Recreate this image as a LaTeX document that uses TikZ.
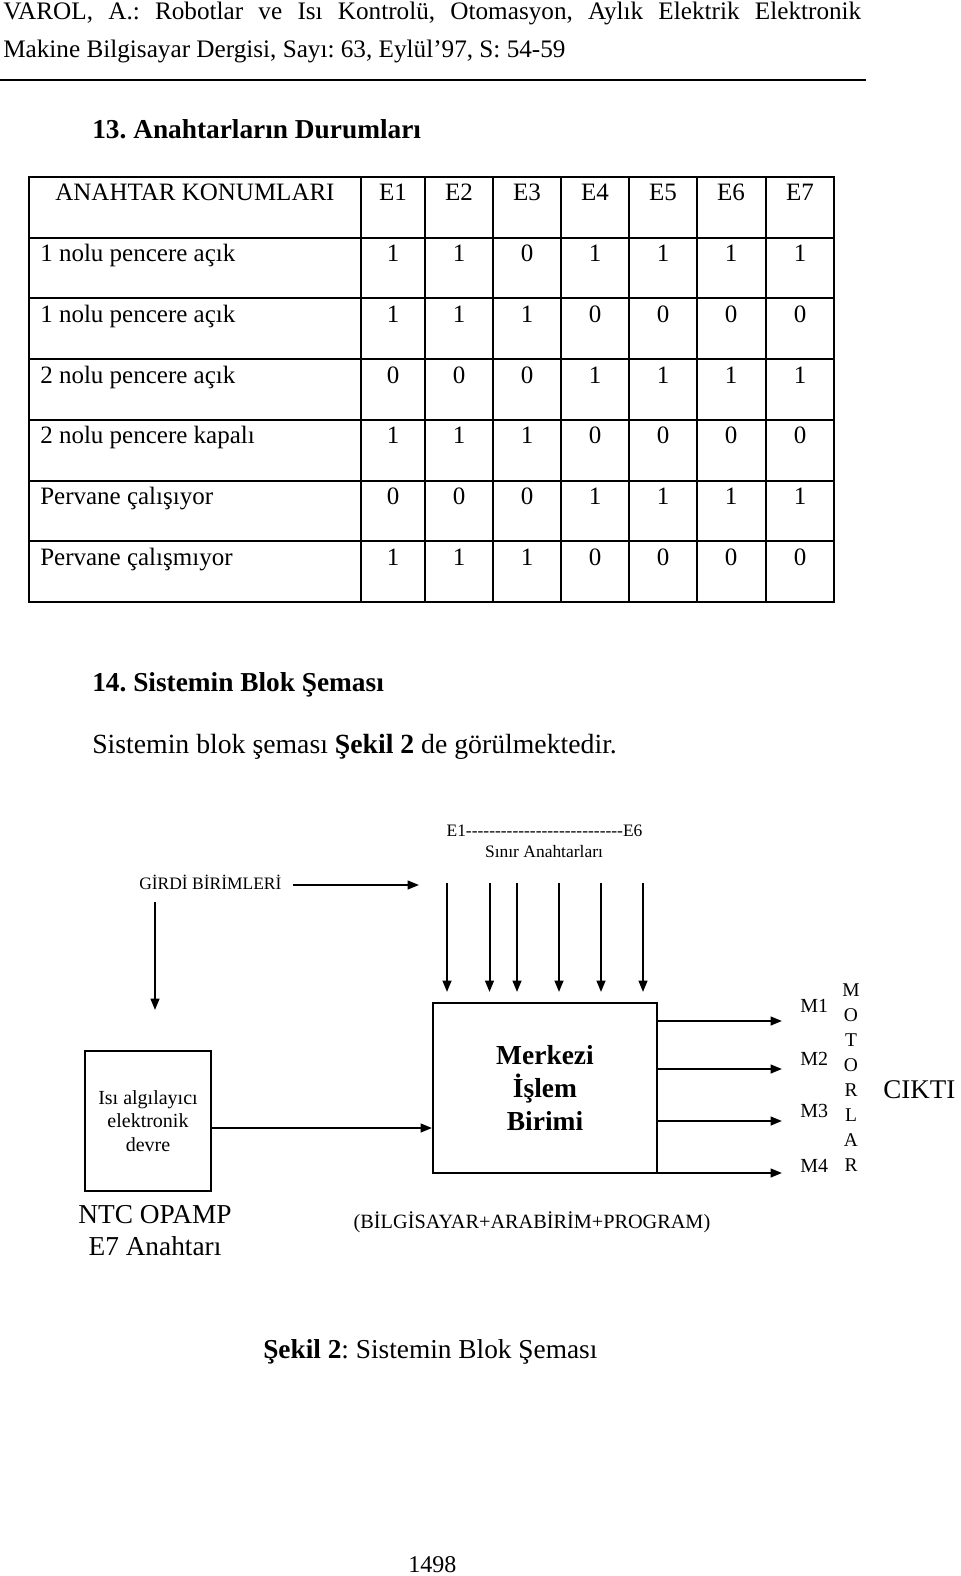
\documentclass[tikz,border=0pt]{standalone}
\usepackage{fontspec}
\setmainfont{Liberation Serif}
\usetikzlibrary{arrows.meta,positioning}
\frenchspacing
\newcommand\fsz[2]{\fontsize{#1pt}{#2pt}\selectfont}
\newcommand\dashrow[1]{\foreach\k in {1,...,#1}{\mbox{-}}}

\begin{document}
\begin{tikzpicture}[x=0.75pt,y=-0.75pt,
    txt/.style={inner sep=0pt,font=\fsz{18.75}{22}},
    small/.style={inner sep=0pt,font=\fsz{13.1}{15}},
    head/.style={inner sep=0pt,font=\fsz{20.5}{24}\bfseries},
    blk/.style={draw,line width=1.5pt,inner sep=0pt,align=center},
    arr/.style={-{Triangle[length=8.5pt,width=6.5pt]},line width=1.5pt}
  ]
  \useasboundingbox (0,0) rectangle (960,1576);
  % header
  \node[txt,anchor=base west,font=\fsz{18.9}{22}] (hdr1) at (3,20)
    {\makebox[643.5pt][s]{VAROL, A.: Robotlar ve Isı Kontrolü, Otomasyon, Aylık Elektrik Elektronik}};
  \node[txt,anchor=base west,font=\fsz{18.9}{22}] (hdr2) at (3,58)
    {Makine Bilgisayar Dergisi, Sayı: 63, Eylül’97, S: 54-59};
  \draw[line width=1.5pt] (0,80) -- (866,80);
  \node[head,anchor=base west] (sec13) at (92,139) {13. Anahtarların Durumları};

  % table
  \foreach \r in {1,...,6} \draw[line width=1.5pt] (29,{177+60.71*\r}) -- (834,{177+60.71*\r});
  \foreach \x in {361,425,493,561,629,697,766} \draw[line width=1.5pt] (\x,177) -- (\x,602);
  \draw[line width=2pt] (29,177) rectangle (834,602);
  \node[txt,anchor=base] (hkon) at (195,201) {ANAHTAR KONUMLARI};
  \foreach \x [count=\c] in {393,459,527,595,663,731,800}
    \node[txt,anchor=base] (h\c) at (\x,201) {E\c};
  \foreach \lab/\vals [count=\r] in {1 nolu pencere açık/{1,1,0,1,1,1,1},
      1 nolu pencere açık/{1,1,1,0,0,0,0}, 2 nolu pencere açık/{0,0,0,1,1,1,1},
      2 nolu pencere kapalı/{1,1,1,0,0,0,0}, Pervane çalışıyor/{0,0,0,1,1,1,1},
      Pervane çalışmıyor/{1,1,1,0,0,0,0}} {
    \node[txt,anchor=base west] (lab\r) at (40,{237+60.8*(\r-1)+24.5}) {\lab};
    \foreach \v [count=\c] in \vals {
      \pgfmathsetmacro\cx{{393,459,527,595,663,731,800}[\c-1]}
      \node[txt,anchor=base] (v\r\c) at (\cx,{237+60.8*(\r-1)+24.5}) {\v};
    }
  }

  \node[head,anchor=base west] (sec14) at (92,691) {14. Sistemin Blok Şeması};
  \node[txt,anchor=base west,font=\fsz{20.8}{24}] (intro) at (92,753)
    {Sistemin blok şeması \textbf{Şekil 2} de görülmektedir.};

  % block diagram
  \node[small,anchor=base] (erange) at (544.5,836) {E1\dashrow{27}E6};
  \node[small,anchor=base] (snr) at (544,857) {Sınır Anahtarları};
  \node[small,anchor=base west] (girdi) at (139,889) {GİRDİ BİRİMLERİ};
  \node[blk,minimum width=168pt,minimum height=127.5pt,font=\fsz{20.6}{24.4}\bfseries]
    (mib) at (545,1088) {Merkezi\\İşlem\\Birimi};
  \node[blk,minimum width=94.5pt,minimum height=105pt,font=\fsz{15}{17.6}]
    (isi) at (148,1121) {Isı algılayıcı\\elektronik\\devre};
  \coordinate (gend) at (419,885);
  \coordinate (gdown) at (155,1010);
  \draw[arr,shorten <=8.25pt] (girdi.east |- gend) -- (gend);
  \draw[arr,shorten <=9.75pt] (gdown |- girdi.south) -- (gdown);
  \foreach \x [count=\i] in {447,489.5,517,559,601,643} {
    \coordinate (s\i) at (\x,883);
    \draw[arr,shorten >=7.5pt] (s\i) -- (s\i |- mib.north);
  }
  \coordinate (iy) at (0,1128);
  \draw[arr] (isi.east |- iy) -- (mib.west |- iy);
  \foreach \yy [count=\i] in {1021,1069,1121,1173} {
    \coordinate (o\i) at (782,\yy);
    \draw[arr] (mib.east |- o\i) -- (o\i);
  }
  \foreach \yy [count=\i] in {1012,1065,1117,1172}
    \node[anchor=base west,inner sep=0pt,font=\fsz{15}{18}] (m\i) at (800,\yy) {M\i};
  \node[anchor=north,inner sep=0pt,align=center,font=\fsz{14.6}{18.8}] (motor) at (851,983)
    {M\\O\\T\\O\\R\\L\\A\\R};
  \node[anchor=base west,inner sep=0pt,font=\fsz{20.25}{24}] (cikti) at (883,1098) {CIKTI};
  \node[anchor=north,inner sep=0pt,align=center,font=\fsz{20.5}{24}] (ntc) at (155,1205)
    {NTC OPAMP\\E7 Anahtarı};
  \node[anchor=base,inner sep=0pt,font=\fsz{15.2}{18}] (prog) at (532,1228)
    {(BİLGİSAYAR+ARABİRİM+PROGRAM)};
  \node[anchor=base west,inner sep=0pt,font=\fsz{20.5}{24}] (cap) at (263,1358)
    {\textbf{Şekil 2}: Sistemin Blok Şeması};
  \node[anchor=base west,inner sep=0pt,font=\fsz{18}{20}] (pg) at (408,1572) {1498};
\end{tikzpicture}
\end{document}
